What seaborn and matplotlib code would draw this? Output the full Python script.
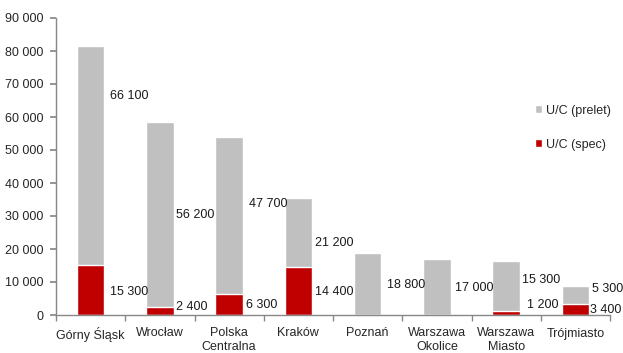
import matplotlib
matplotlib.use("Agg")
import matplotlib.pyplot as plt
import seaborn as sns
import pandas as pd
import numpy as np

regions = ["Górny Śląsk", "Wrocław", "Polska\nCentralna", "Kraków", "Poznań",
           "Warszawa\nOkolice", "Warszawa\nMiasto", "Trójmiasto"]
prelet = [66100, 56200, 47700, 21200, 18800, 17000, 15300, 5300]
spec = [15300, 2400, 6300, 14400, 0, 0, 1200, 3400]
# vertical anchor of each value label (data units)
prelet_label_y = [66400, 30300, 33600, 21900, 9100, 8200, 10600, 7900]
spec_label_y = [7100, 2500, 3000, 7100, None, None, 3000, 1500]
# horizontal shift of labels from the category centre
prelet_label_dx = [0.28, 0.23, 0.29, 0.24, 0.28, 0.26, 0.23, 0.245]
spec_label_dx = [0.28, 0.23, 0.24, 0.24, 0, 0, 0.30, 0.21]

yticks = list(range(0, 90001, 10000))

GREY = "#C0C0C0"
RED = "#C00000"
FS = 9

sns.set_theme(style="white")
plt.rcParams["font.family"] = ["Liberation Sans", "DejaVu Sans"]
plt.rcParams["font.size"] = FS

df = pd.DataFrame({"region": regions, "prelet": prelet, "spec": spec})
df["total"] = df["prelet"] + df["spec"]

fig = plt.figure(figsize=(6.23, 3.53), dpi=100)
ax = fig.add_axes([56 / 623, 1 - 315 / 353, (610 - 56) / 623, (315 - 18) / 353])

sns.barplot(data=df, x="region", y="total", color=GREY, width=0.4,
            saturation=1, ax=ax, label="U/C (prelet)")
sns.barplot(data=df, x="region", y="spec", color=RED, width=0.4,
            saturation=1, ax=ax, label="U/C (spec)")


def fmt(v):
    return f"{v:,}".replace(",", " ")


for i in range(len(regions)):
    ax.text(i + prelet_label_dx[i], prelet_label_y[i], fmt(prelet[i]),
            ha="left", va="center", fontsize=FS, color="#1a1a1a")
    if spec[i] > 0:
        ax.text(i + spec_label_dx[i], spec_label_y[i], fmt(spec[i]),
                ha="left", va="center", fontsize=FS, color="#1a1a1a")

ax.set_xlim(-0.5, len(regions) - 0.5)
ax.set_ylim(0, 90000)
ax.set_yticks(yticks)
ax.set_yticklabels([fmt(t) for t in yticks])
ax.set_xlabel("")
ax.set_ylabel("")

ax.set_xticks(np.arange(-0.5, len(regions), 1.0), minor=True)
ax.tick_params(axis="x", which="major", length=0, pad=9, labelsize=FS)
ax.tick_params(axis="x", which="minor", length=4, color="#888888", direction="out", bottom=True)
ax.tick_params(axis="y", length=4, color="#888888", direction="out", left=True, labelsize=FS, pad=5)

for side in ["top", "right"]:
    ax.spines[side].set_visible(False)
for side in ["left", "bottom"]:
    ax.spines[side].set_color("#888888")
    ax.spines[side].set_linewidth(1.0)

handles, labels = ax.get_legend_handles_labels()
ax.legend(handles, labels, loc="upper left", bbox_to_anchor=(0.855, 0.725),
          frameon=False, fontsize=FS, handlelength=0.6, handleheight=0.6,
          handletextpad=0.3, labelspacing=1.75, borderaxespad=0)

fig.savefig("out.png", dpi=100)
